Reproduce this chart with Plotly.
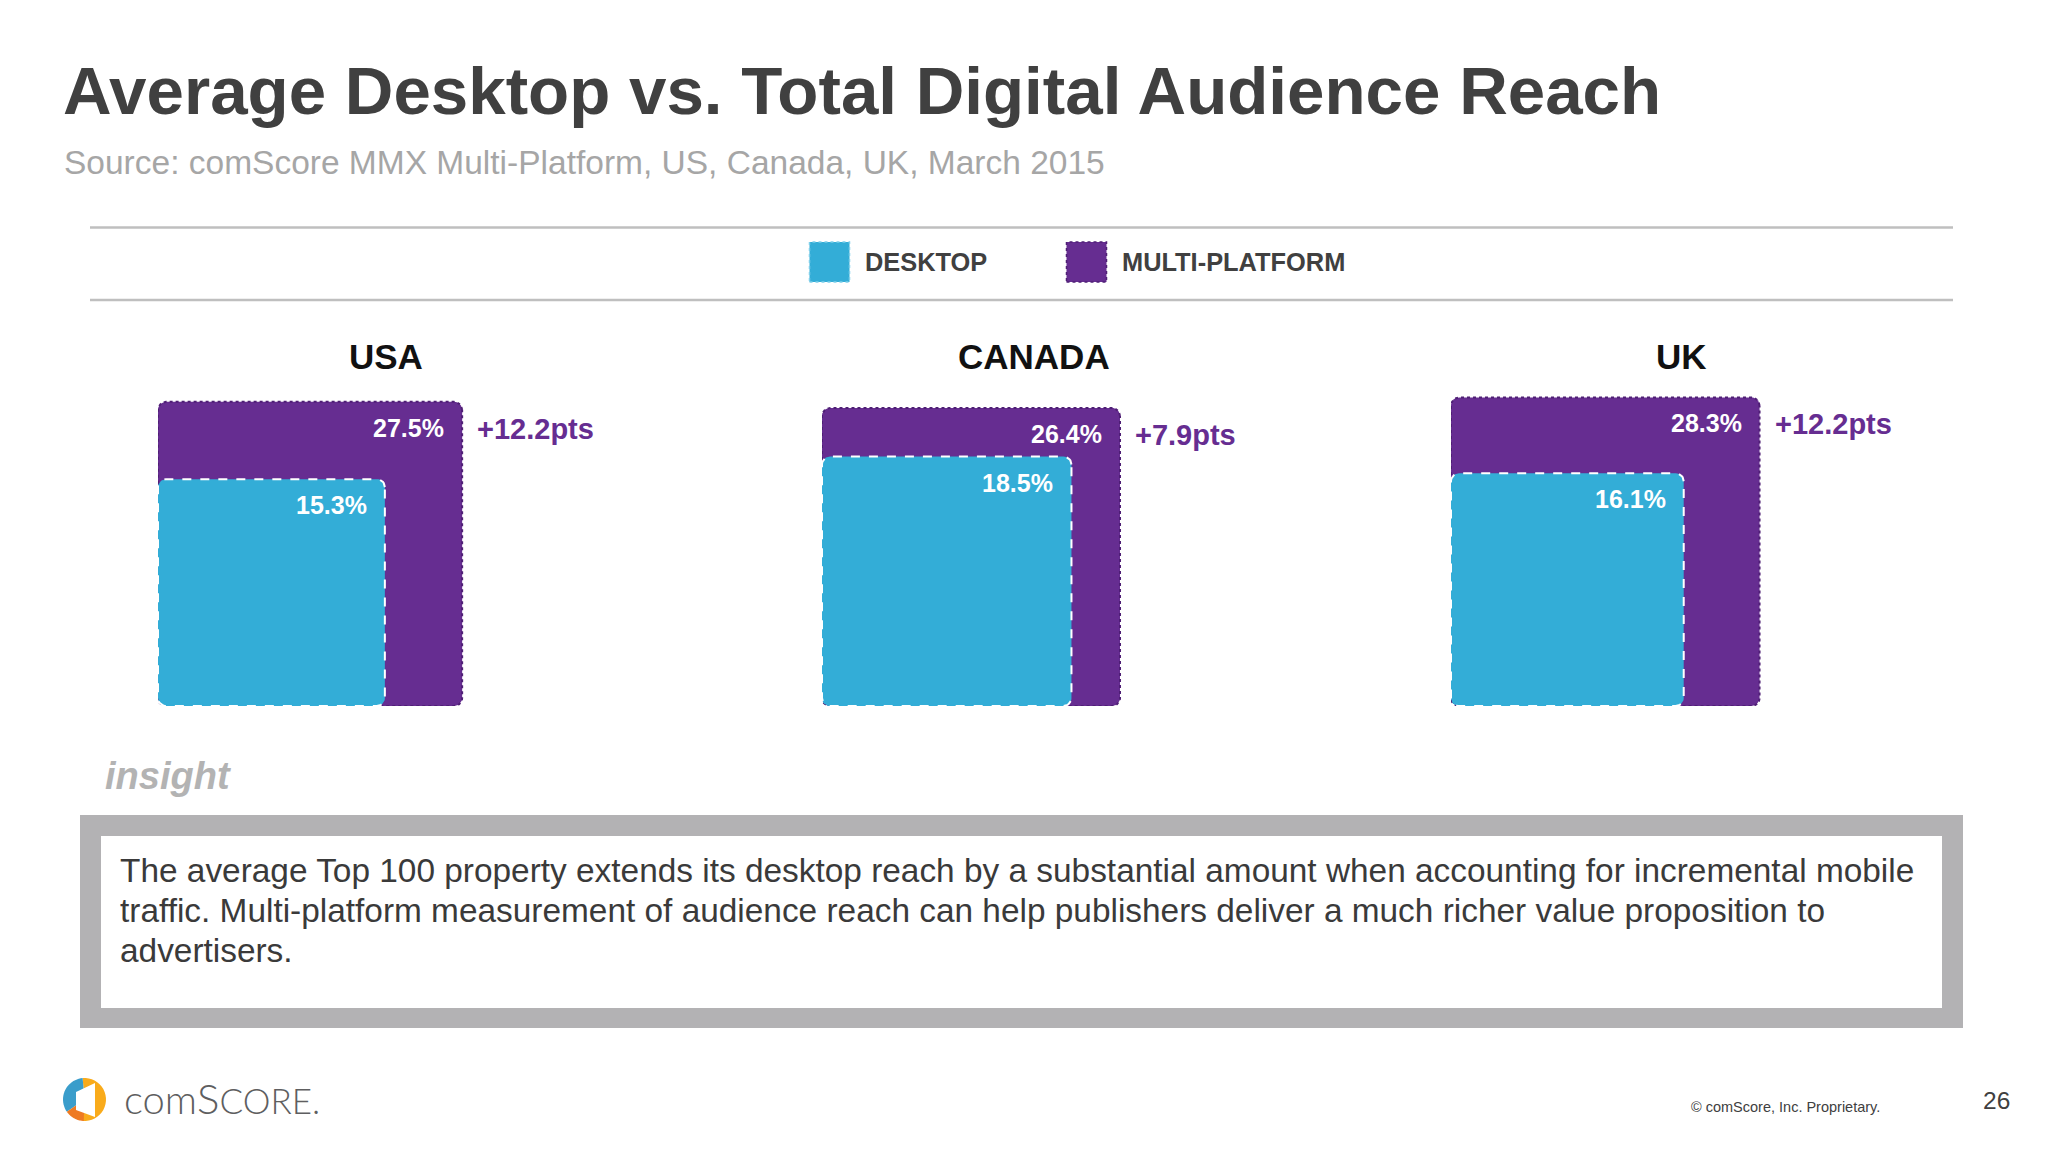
import numpy as np
import plotly.graph_objects as go

# ---------------- data ----------------
countries = ["USA", "CANADA", "UK"]
desktop = [15.3, 18.5, 16.1]
multi_platform = [27.5, 26.4, 28.3]
series_names = ["DESKTOP", "MULTI-PLATFORM"]

title_text = "Average Desktop vs. Total Digital Audience Reach"
subtitle_text = "Source: comScore MMX Multi-Platform, US, Canada, UK, March 2015"
insight_label = "insight"
insight_lines = [
    "The average Top 100 property extends its desktop reach by a substantial amount when accounting for incremental mobile",
    "traffic. Multi-platform measurement of audience reach can help publishers deliver a much richer value proposition to",
    "advertisers.",
]
copyright_text = "© comScore, Inc. Proprietary."
page_number = "26"

# ---------------- style / layout ----------------
W, H = 2048, 1152
PURPLE = "#662D91"
PURPLE_EDGE = "#4F1F75"
BLUE = "#33ADD7"
DARK = "#404040"
FONT = "Liberation Sans, Arial, sans-serif"

PX_PER_UNIT = 58.0            # pixels per sqrt(percent)  (area-proportional squares)
group_left = [158, 822, 1451] # left edge of each group's axis (px)
bottom_px = 706               # common baseline of squares (px)
AX_PX = 330                   # axis extent in px
group_title_x = [386, 1034, 1681]
group_title_y = 356
corner_px = 8


def fx(px):
    return px / W


def fy(py):
    return 1 - py / H


def rounded_square(side, r, n=10):
    xs, ys = [], []
    corners = [((side - r, side - r), 0), ((r, side - r), 90), ((r, r), 180), ((side - r, r), 270)]
    for (cx, cy), a0 in corners:
        ang = np.radians(np.linspace(a0, a0 + 90, n))
        xs.extend(cx + r * np.cos(ang))
        ys.extend(cy + r * np.sin(ang))
    xs.append(xs[0])
    ys.append(ys[0])
    return xs, ys


fig = go.Figure()
annotations = []
shapes = []
r_units = corner_px / PX_PER_UNIT

for i, country in enumerate(countries):
    n = "" if i == 0 else str(i + 1)
    xr, yr = "x" + n, "y" + n
    vals = [(multi_platform[i], PURPLE, dict(color=PURPLE_EDGE, width=2, dash="dot"), series_names[1]),
            (desktop[i], BLUE, dict(color="white", width=2, dash="dash"), series_names[0])]
    for v, col, ln, nm in vals:
        side = np.sqrt(v)
        xs, ys = rounded_square(side, r_units)
        fig.add_trace(go.Scatter(
            x=xs, y=ys, mode="lines", fill="toself", fillcolor=col, line=ln,
            xaxis=xr, yaxis=yr, name=nm, showlegend=False,
            hoverinfo="text", text=f"{country} {nm}: {v}%", hoveron="fills"))
        annotations.append(dict(
            x=side, y=side, xref=xr, yref=yr, text=f"<b>{v}%</b>", showarrow=False,
            xanchor="right", yanchor="middle", xshift=-18, yshift=-26,
            font=dict(family=FONT, size=25, color="white"), borderpad=0, borderwidth=0))
    mside = np.sqrt(multi_platform[i])
    diff = multi_platform[i] - desktop[i]
    annotations.append(dict(
        x=mside, y=mside, xref=xr, yref=yr, text=f"<b>+{diff:.1f}pts</b>", showarrow=False,
        xanchor="left", yanchor="middle", xshift=15, yshift=-27,
        font=dict(family=FONT, size=29, color=PURPLE), borderpad=0, borderwidth=0))
    annotations.append(dict(
        x=fx(group_title_x[i]), y=fy(group_title_y), xref="paper", yref="paper",
        text=f"<b>{country}</b>", showarrow=False, xanchor="center", yanchor="middle",
        font=dict(family=FONT, size=35, color="#111111"), borderpad=0, borderwidth=0))

    rng = [0, AX_PX / PX_PER_UNIT]
    fig.update_layout(**{
        "xaxis" + n: dict(domain=[fx(group_left[i]), fx(group_left[i] + AX_PX)], range=rng,
                          visible=False, fixedrange=True, anchor=yr),
        "yaxis" + n: dict(domain=[fy(bottom_px), fy(bottom_px - AX_PX)], range=rng,
                          visible=False, fixedrange=True, anchor=xr),
    })

# title & subtitle
annotations.append(dict(x=fx(63), y=fy(90), xref="paper", yref="paper", text=f"<b>{title_text}</b>",
                        showarrow=False, xanchor="left", yanchor="middle",
                        font=dict(family=FONT, size=67.3, color=DARK), borderpad=0, borderwidth=0))
annotations.append(dict(x=fx(64), y=fy(162), xref="paper", yref="paper", text=subtitle_text,
                        showarrow=False, xanchor="left", yanchor="middle",
                        font=dict(family=FONT, size=33.5, color="#A6A6A6"), borderpad=0, borderwidth=0))

# separator lines
for yy in (227.5, 300):
    shapes.append(dict(type="line", xref="paper", yref="paper", x0=fx(90), x1=fx(1953), y0=fy(yy), y1=fy(yy),
                       line=dict(color="#BFBFBF", width=2.5)))

# legend (custom)
legend_items = [(series_names[0], BLUE, "#7FCFEA", 809.5, 865), (series_names[1], PURPLE, PURPLE_EDGE, 1066.5, 1122)]
for nm, col, edge, sx, tx in legend_items:
    shapes.append(dict(type="rect", xref="paper", yref="paper", x0=fx(sx), x1=fx(sx + 40), y0=fy(282), y1=fy(242),
                       fillcolor=col, line=dict(color=edge, width=1.5, dash="dot")))
    annotations.append(dict(x=fx(tx), y=fy(262), xref="paper", yref="paper", text=f"<b>{nm}</b>",
                            showarrow=False, xanchor="left", yanchor="middle",
                            font=dict(family=FONT, size=25.4, color=DARK), borderpad=0, borderwidth=0))

# insight label & box
annotations.append(dict(x=fx(105), y=fy(776), xref="paper", yref="paper", text=f"<b><i>{insight_label}</i></b>",
                        showarrow=False, xanchor="left", yanchor="middle",
                        font=dict(family=FONT, size=38, color="#B3B3B3"),
                        borderpad=0, borderwidth=0))
shapes.append(dict(type="rect", xref="paper", yref="paper", x0=fx(80), x1=fx(1963), y0=fy(1028), y1=fy(815),
                   fillcolor="#B3B2B4", line=dict(width=0), layer="below"))
shapes.append(dict(type="rect", xref="paper", yref="paper", x0=fx(101), x1=fx(1942), y0=fy(1008), y1=fy(836),
                   fillcolor="white", line=dict(width=0), layer="below"))
for k, line in enumerate(insight_lines):
    annotations.append(dict(x=fx(120), y=fy(870 + 40 * k), xref="paper", yref="paper", text=line,
                            showarrow=False, xanchor="left", yanchor="middle",
                            font=dict(family=FONT, size=33.4, color="#3A3A3A"), borderpad=0, borderwidth=0))

# footer: logo
cx, cy, rad = 84.5, 1099.5, 21.5


def sector_path(a0, a1, n=24):
    ang = np.radians(np.linspace(a0, a1, n))
    pts = [(cx, cy)] + [(cx + rad * np.cos(a), cy - rad * np.sin(a)) for a in ang]
    return "M " + " L ".join(f"{fx(p[0])},{fy(p[1])}" for p in pts) + " Z"


shapes.append(dict(type="path", xref="paper", yref="paper", path=sector_path(-95, 95), fillcolor="#F9AB1B", line=dict(width=0)))
shapes.append(dict(type="path", xref="paper", yref="paper", path=sector_path(95, 215), fillcolor="#3A9DCB", line=dict(width=0)))
shapes.append(dict(type="path", xref="paper", yref="paper", path=sector_path(215, 268), fillcolor="#EE7A22", line=dict(width=0)))
door = [(76, 1092), (95, 1083), (95, 1117), (76, 1110)]
shapes.append(dict(type="path", xref="paper", yref="paper",
                   path="M " + " L ".join(f"{fx(a)},{fy(b)}" for a, b in door) + " Z",
                   fillcolor="white", line=dict(width=0)))
annotations.append(dict(x=fx(124), y=fy(1098), xref="paper", yref="paper",
                        text="com<span style='font-size:42px'>S</span><span style='font-size:35px'>CORE.</span>",
                        showarrow=False, xanchor="left", yanchor="middle",
                        font=dict(family="Lato, Open Sans, sans-serif", size=40, color="#5E5E60", weight=300),
                        borderpad=0, borderwidth=0))
annotations.append(dict(x=fx(1691), y=fy(1107), xref="paper", yref="paper", text=copyright_text,
                        showarrow=False, xanchor="left", yanchor="middle",
                        font=dict(family=FONT, size=14.5, color=DARK), borderpad=0, borderwidth=0))
annotations.append(dict(x=fx(1983), y=fy(1100), xref="paper", yref="paper", text=page_number,
                        showarrow=False, xanchor="left", yanchor="middle",
                        font=dict(family=FONT, size=24.5, color=DARK), borderpad=0, borderwidth=0))

fig.update_layout(
    width=W, height=H, margin=dict(l=0, r=0, t=0, b=0),
    paper_bgcolor="white", plot_bgcolor="rgba(0,0,0,0)",
    showlegend=False, annotations=annotations, shapes=shapes,
    font=dict(family=FONT),
)

fig.write_html("out.html", config={"displayModeBar": False},
               post_script="document.body.style.margin='0';document.body.style.overflow='hidden';")
